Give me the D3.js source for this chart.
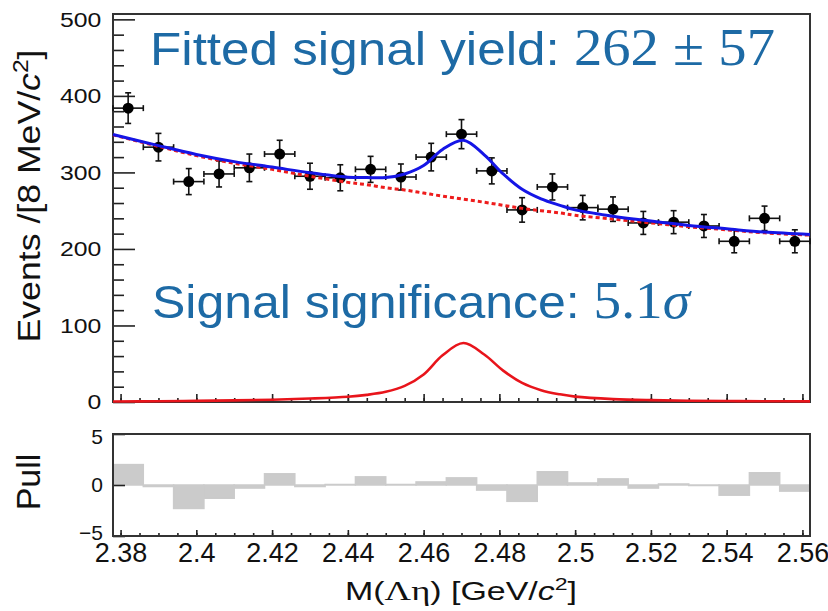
<!DOCTYPE html>
<html>
<head>
<meta charset="utf-8">
<script src="https://cdn.jsdelivr.net/npm/d3@7"></script>
<style>
  body { margin: 0; background: #fff; }
  text { font-family: "Liberation Sans", Arial, sans-serif; }
</style>
</head>
<body>
<div id="chart-area"></div>
<script>
// Lambda-eta invariant mass fit with pull panel

// bin centres (GeV/c^2), 8 MeV bins
var massBins = [2.382, 2.390, 2.398, 2.406, 2.414, 2.422, 2.430, 2.438, 2.446, 2.454, 2.462, 2.470,
                2.478, 2.486, 2.494, 2.502, 2.510, 2.518, 2.526, 2.534, 2.542, 2.550, 2.558];
var counts   = [384, 333, 288, 298, 306, 324, 295, 293, 304, 294, 320, 350,
                302, 251, 281, 254, 252, 234, 235, 230, 210, 240, 210];
var countErr = [20, 18, 17, 17, 18, 18, 17, 17, 17, 17, 18, 19,
                17, 16, 17, 16, 16, 15, 15, 15, 15, 16, 15];
var pulls    = [2.0, -0.15, -2.3, -1.3, -0.3, 1.1, -0.15, 0.05, 0.8, 0.05, 0.3, 0.7,
                -0.5, -1.6, 1.3, 0.2, 0.6, -0.3, 0.1, -0.05, -1.0, 1.2, -0.6];
var binHalf = 0.004;

// fit curves
var fitMass = [2.378, 2.39, 2.40, 2.41, 2.42, 2.43, 2.44, 2.445, 2.45, 2.455, 2.46, 2.465, 2.4705,
               2.476, 2.481, 2.486, 2.491, 2.496, 2.50, 2.51, 2.52, 2.53, 2.54, 2.55, 2.562];
var bkgFit  = [349, 334, 322, 312, 304, 295, 287, 284, 280, 277, 273, 269, 265,
               261, 257, 253, 250, 247, 244, 239, 234, 229, 225, 221, 218];
var sigFit  = [0.6, 1.0, 1.5, 2.1, 3.0, 4.5, 6.8, 9.3, 13.3, 21, 36, 61, 77,
               62, 41, 25, 15.5, 10, 7, 3.8, 2.4, 1.7, 1.3, 1.0, 0.8];

var yMajor = [0, 100, 200, 300, 400, 500];
var pullTicks = [-5, 0, 5];

var W = 828, H = 611;
var annColor = "#1d6aa5";
var serif = "Liberation Serif, 'DejaVu Serif', serif";

var svg = d3.select("#chart-area")
    .append("svg")
    .attr("width", W)
    .attr("height", H);

svg.append("rect").attr("width", W).attr("height", H).attr("fill", "#fff");

// Scales
var x = d3.scaleLinear().domain([2.378, 2.562]).range([113, 810]);
var y = d3.scaleLinear().domain([0, 507]).range([402, 14]);
var yp = d3.scaleLinear().domain([-5, 5]).range([536, 434]);

function styleAxis(g, fs) {
    g.select(".domain").remove();
    g.selectAll("line").attr("stroke", "#222").attr("stroke-width", 1.6);
    g.attr("font-size", fs)
        .attr("font-family", "Liberation Sans, Arial, sans-serif");
    g.selectAll("text").attr("fill", "#111");
}

// ---------- top panel axes ----------
var yMinor = y.ticks(25).filter(function(d){ return d % 100 !== 0; });
svg.append("g")
    .attr("transform", "translate(113,0)")
    .call(d3.axisLeft(y).tickValues(yMinor).tickSize(-11).tickSizeOuter(0).tickFormat(""))
    .call(styleAxis, 21);

var yAx = svg.append("g")
    .attr("transform", "translate(113,0)")
    .call(d3.axisLeft(y).tickValues(yMajor).tickSize(-22).tickSizeOuter(0).tickPadding(10))
    .call(styleAxis, 21);
yAx.selectAll("text").attr("transform", "scale(1.18,1)");

var xMajor = x.ticks(9);
var xMinor = x.ticks(40);

svg.append("g")
    .attr("transform", "translate(0,402)")
    .call(d3.axisBottom(x).tickValues(xMinor).tickSize(-4).tickSizeOuter(0).tickFormat(""))
    .call(styleAxis, 10);
svg.append("g")
    .attr("transform", "translate(0,402)")
    .call(d3.axisBottom(x).tickValues(xMajor).tickSize(-8).tickSizeOuter(0).tickFormat(""))
    .call(styleAxis, 10);

// frame
svg.append("rect")
    .attr("x", 113).attr("y", 14)
    .attr("width", 697).attr("height", 388)
    .attr("fill", "none")
    .attr("stroke", "#333")
    .attr("stroke-width", 2);

// ---------- data points ----------
var pts = svg.append("g").attr("class", "data");
massBins.forEach(function(m, i) {
    var cx = x(m), cy = y(counts[i]);
    var y0 = y(counts[i] - countErr[i]), y1 = y(counts[i] + countErr[i]);
    var xl = x(m - binHalf), xr = x(m + binHalf);
    pts.append("line").attr("x1", cx).attr("x2", cx).attr("y1", y0).attr("y2", y1);
    pts.append("line").attr("x1", xl).attr("x2", xr).attr("y1", cy).attr("y2", cy);
    // end caps
    pts.append("line").attr("x1", cx - 3).attr("x2", cx + 3).attr("y1", y0).attr("y2", y0);
    pts.append("line").attr("x1", cx - 3).attr("x2", cx + 3).attr("y1", y1).attr("y2", y1);
    pts.append("line").attr("x1", xl).attr("x2", xl).attr("y1", cy - 3).attr("y2", cy + 3);
    pts.append("line").attr("x1", xr).attr("x2", xr).attr("y1", cy - 3).attr("y2", cy + 3);
    pts.append("circle").attr("cx", cx).attr("cy", cy).attr("r", 5.5).attr("fill", "#000");
});
pts.selectAll("line").attr("stroke", "#111").attr("stroke-width", 1.6);

// ---------- fit curves ----------
var fitRows = fitMass.map(function(m, i) {
    return { m: m, bkg: bkgFit[i], sig: sigFit[i], tot: bkgFit[i] + sigFit[i] };
});

function curve(key) {
    return d3.line()
        .curve(d3.curveCatmullRom.alpha(0.5))
        .x(function(d){ return x(d.m); })
        .y(function(d){ return y(d[key]); })(fitRows);
}

svg.append("path")
    .attr("d", curve("sig"))
    .attr("fill", "none")
    .attr("stroke", "#e8141b")
    .attr("stroke-width", 2.6);

svg.append("path")
    .attr("d", curve("bkg"))
    .attr("fill", "none")
    .attr("stroke", "#ee1c1c")
    .attr("stroke-width", 3)
    .attr("stroke-dasharray", "4,3");

svg.append("path")
    .attr("d", curve("tot"))
    .attr("fill", "none")
    .attr("stroke", "#1515e6")
    .attr("stroke-width", 3);

// ---------- annotations ----------
var ann1 = svg.append("text")
    .attr("x", 150).attr("y", 65)
    .attr("font-size", 47)
    .attr("fill", annColor);
ann1.append("tspan").text("Fitted signal yield: ");
ann1.append("tspan").style("font-family", serif).attr("font-size", 52).text("262 \u00b1 57");
ann1.attr("textLength", 625).attr("lengthAdjust", "spacingAndGlyphs");

var ann2 = svg.append("text")
    .attr("x", 152).attr("y", 318)
    .attr("font-size", 47)
    .attr("fill", annColor);
ann2.append("tspan").text("Signal significance: ");
ann2.append("tspan").style("font-family", serif).attr("font-size", 52).text("5.1");
ann2.append("tspan").style("font-family", serif).attr("font-size", 52)
    .attr("font-style", "italic").text("\u03c3");
ann2.attr("textLength", 538).attr("lengthAdjust", "spacingAndGlyphs");

// y title
var yTitle = svg.append("text")
    .attr("transform", "translate(40,196) rotate(-90)")
    .attr("text-anchor", "middle")
    .attr("font-size", 32)
    .attr("fill", "#111");
yTitle.append("tspan").text("Events /[8 MeV/");
yTitle.append("tspan").attr("font-style", "italic").text("c");
yTitle.append("tspan").attr("font-size", 22).attr("dy", -12).text("2");
yTitle.append("tspan").attr("dy", 12).text("]");
yTitle.attr("textLength", 293).attr("lengthAdjust", "spacingAndGlyphs");

// ---------- pull panel ----------
var pullG = svg.append("g").attr("class", "pulls");
massBins.forEach(function(m, i) {
    var p = pulls[i];
    var top = yp(Math.max(p, 0)), bot = yp(Math.min(p, 0));
    pullG.append("rect")
        .attr("x", x(m - binHalf))
        .attr("y", top)
        .attr("width", x(m + binHalf) - x(m - binHalf))
        .attr("height", Math.max(bot - top, 0.5))
        .attr("fill", "#cbcbcb")
        .attr("stroke", "#cbcbcb")
        .attr("stroke-width", 1.5);
});

var pAx = svg.append("g")
    .attr("transform", "translate(113,0)")
    .call(d3.axisLeft(yp).tickValues(pullTicks).tickSize(-12).tickSizeOuter(0).tickPadding(10))
    .call(styleAxis, 21);
pAx.selectAll("text").attr("dy", function(d){ return d > 0 ? "0.45em" : (d < 0 ? "0.18em" : "0.32em"); });

svg.append("g")
    .attr("transform", "translate(0,536)")
    .call(d3.axisBottom(x).tickValues(xMinor).tickSize(-3).tickSizeOuter(0).tickFormat(""))
    .call(styleAxis, 10);
svg.append("g")
    .attr("transform", "translate(0,536)")
    .call(d3.axisBottom(x).tickValues(xMajor).tickSize(-6).tickSizeOuter(0).tickPadding(7)
        .tickFormat(d3.format("~g")))
    .call(styleAxis, 27);

svg.append("rect")
    .attr("x", 113).attr("y", 434)
    .attr("width", 697).attr("height", 102)
    .attr("fill", "none")
    .attr("stroke", "#333")
    .attr("stroke-width", 2);

// pull title
svg.append("text")
    .attr("transform", "translate(40,482) rotate(-90)")
    .attr("text-anchor", "middle")
    .attr("font-size", 34)
    .attr("fill", "#111")
    .text("Pull");

// x title
var xTitle = svg.append("text")
    .attr("x", 345).attr("y", 600)
    .attr("font-size", 25)
    .attr("fill", "#111");
xTitle.append("tspan").text("M(");
xTitle.append("tspan").style("font-family", serif).attr("font-size", 27).text("\u039b\u03b7");
xTitle.append("tspan").text(") [GeV/");
xTitle.append("tspan").attr("font-style", "italic").text("c");
xTitle.append("tspan").attr("font-size", 17).attr("dy", -10).text("2");
xTitle.append("tspan").attr("dy", 10).text("]");
xTitle.attr("textLength", 232).attr("lengthAdjust", "spacingAndGlyphs");
</script>
</body>
</html>
